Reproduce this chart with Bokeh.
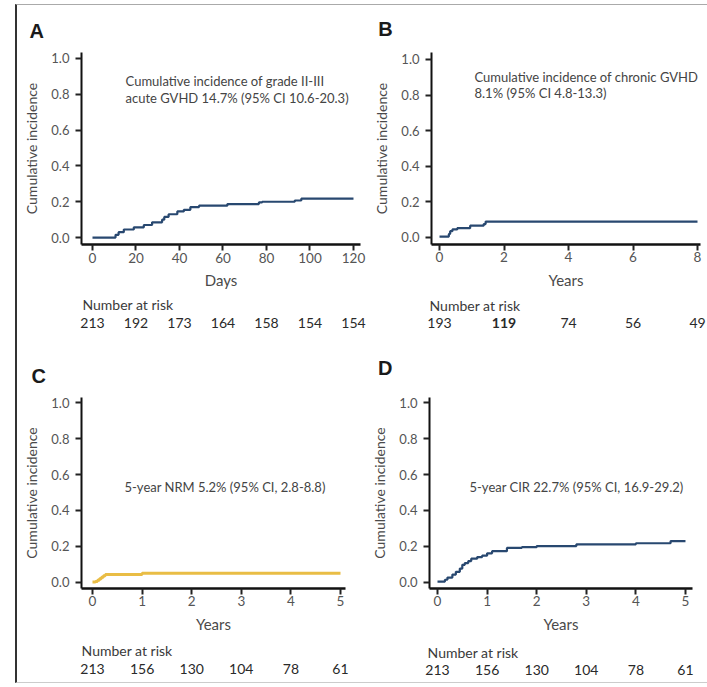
from bokeh.plotting import figure
from bokeh.layouts import column, row
from bokeh.models import Label, FixedTicker, Range1d, Spacer, CustomJSTickFormatter
from bokeh.embed import file_html
from bokeh.resources import INLINE

# ---------------- data ----------------
a_days = [0, 10.6, 12, 14.4, 19, 23.6, 27.4, 32, 33, 35, 39, 42, 45, 49, 62, 76.5, 78, 93, 96, 120]
a_ci = [0.0, 0.015, 0.03, 0.045, 0.057, 0.07, 0.085, 0.1, 0.115, 0.13, 0.146, 0.155, 0.17, 0.178,
        0.187, 0.196, 0.2, 0.207, 0.217, 0.217]
a_ticks = [0, 20, 40, 60, 80, 100, 120]
a_risk = ["213", "192", "173", "164", "158", "154", "154"]

b_years = [0, 0.29, 0.33, 0.4, 0.55, 0.95, 1.37, 1.43, 8]
b_ci = [0.005, 0.02, 0.035, 0.045, 0.052, 0.066, 0.075, 0.089, 0.089]
b_ticks = [0, 2, 4, 6, 8]
b_risk = ["193", "119", "74", "56", "49"]

c_years = [0, 0.06, 0.1, 0.14, 0.18, 0.22, 0.26, 1.0, 5]
c_ci = [0.003, 0.005, 0.012, 0.02, 0.029, 0.037, 0.044, 0.051, 0.051]
c_ticks = [0, 1, 2, 3, 4, 5]
c_risk = ["213", "156", "130", "104", "78", "61"]

d_years = [0, 0.15, 0.2, 0.3, 0.37, 0.45, 0.5, 0.55, 0.62, 0.68, 0.8, 0.9, 1.0, 1.1, 1.4, 1.7,
           2.0, 2.8, 4.0, 4.7, 5.0]
d_ci = [0.005, 0.015, 0.027, 0.044, 0.059, 0.077, 0.098, 0.108, 0.119, 0.132, 0.141, 0.149,
        0.162, 0.174, 0.192, 0.196, 0.202, 0.212, 0.218, 0.23, 0.23]
d_ticks = [0, 1, 2, 3, 4, 5]
d_risk = ["213", "156", "130", "104", "78", "61"]
y_ticks = [0, 0.2, 0.4, 0.6, 0.8, 1.0]

FONT = "Lato"
BLUE = "#284870"
GOLD = "#e9bd45"


def panel(w, h, xr, yr, ax_x, ax_y, x_end, y_end, xs, ys, ticks, xlabel, color, letter, letter_xy,
          notes, risk, risk_x0, risk_y, bold_idx=None):
    p = figure(width=w, height=h, output_backend="svg", toolbar_location=None,
               x_range=Range1d(*xr), y_range=Range1d(*yr),
               min_border_left=0, min_border_right=0, min_border_top=0, min_border_bottom=0)
    p.grid.visible = False
    p.outline_line_color = None
    p.background_fill_color = "white"
    p.border_fill_color = "white"
    p.step(xs, ys, mode="after", line_color=color, line_width=2.2 if color == BLUE else 3)

    p.xaxis.ticker = FixedTicker(ticks=ticks)
    p.yaxis.ticker = FixedTicker(ticks=y_ticks)
    p.yaxis.formatter = CustomJSTickFormatter(code="return tick.toFixed(1);")
    p.xaxis.fixed_location = ax_y
    p.yaxis.fixed_location = ax_x
    p.xaxis.bounds = (ax_x, x_end)
    p.yaxis.bounds = (ax_y, y_end)
    for ax in (p.xaxis[0], p.yaxis[0]):
        ax.axis_line_color = "#111111"
        ax.major_tick_line_color = "#222222"
        ax.major_tick_line_width = 2
        ax.major_tick_out = 6
        ax.major_tick_in = 0
        ax.minor_tick_line_color = None
        ax.major_label_text_font = FONT
        ax.major_label_text_color = "#555555"
        ax.axis_label_text_font = FONT
        ax.axis_label_text_font_style = "normal"
        ax.axis_label_text_color = "#4a4a4a"
    p.xaxis.major_label_text_font_size = "13.5px"
    p.yaxis.major_label_text_font_size = "13px"
    p.xaxis.axis_line_width = 2.5
    p.yaxis.axis_line_width = 2
    p.xaxis.axis_label = xlabel
    p.xaxis.axis_label_text_font_size = "15px"
    p.xaxis.major_label_standoff = 2
    p.xaxis.axis_label_standoff = 5
    p.yaxis.axis_label = "Cumulative incidence"
    p.yaxis.axis_label_text_font_size = "14px"
    p.yaxis.major_label_standoff = 6
    p.yaxis.axis_label_standoff = 8

    p.add_layout(Label(x=letter_xy[0], y=letter_xy[1], text=letter, text_font="Liberation Sans",
                       text_font_style="bold", text_font_size="20px", text_color="#1a1a1a",
                       text_align="left", text_baseline="middle"))
    for nx, ny, txt in notes:
        p.add_layout(Label(x=nx, y=ny, text=txt, text_font=FONT, text_font_size="13px",
                           text_color="#444444", text_align="left", text_baseline="middle"))
    p.add_layout(Label(x=risk_x0, y=risk_y[0], text="Number at risk", text_font=FONT,
                       text_font_size="14px", text_color="#3a3a3a", text_align="left",
                       text_baseline="middle"))
    for i, (tx, r) in enumerate(zip(ticks, risk)):
        p.add_layout(Label(x=tx, y=risk_y[1], text=r, text_font=FONT, text_font_size="14px",
                           text_color="#2a2a2a", text_align="center", text_baseline="middle",
                           text_font_style="bold" if i == bold_idx else "normal"))
    return p


pa = panel(353, 340, (-34.48, 127.82), (-0.603, 1.296), -5.06, -0.039, 123.2, 1.036,
           a_days, a_ci, a_ticks, "Days", BLUE, "A", (-29.0, 1.155),
           [(15.2, 0.872, "Cumulative incidence of grade II-III"),
            (15.2, 0.778, "acute GVHD 14.7% (95% CI 10.6-20.3)")],
           a_risk, -4.6, (-0.372, -0.478))

pb = panel(337, 340, (-2.14, 8.31), (-0.607, 1.303), -0.248, -0.039, 8.09, 1.039,
           b_years, b_ci, b_ticks, "Years", BLUE, "B", (-1.9, 1.17),
           [(1.085, 0.899, "Cumulative incidence of chronic GVHD"),
            (1.085, 0.809, "8.1% (95% CI 4.8-13.3)")],
           b_risk, -0.31, (-0.382, -0.483), bold_idx=1)

pc = panel(353, 337, (-1.512, 5.605), (-0.556, 1.317), -0.222, -0.033, 5.1, 1.028,
           c_years, c_ci, c_ticks, "Years", GOLD, "C", (-1.23, 1.15),
           [(0.645, 0.533, "5-year NRM 5.2% (95% CI, 2.8-8.8)")],
           c_risk, -0.22, (-0.378, -0.483))

pd_ = panel(337, 337, (-1.351, 5.444), (-0.556, 1.317), -0.161, -0.033, 5.14, 1.028,
            d_years, d_ci, d_ticks, "Years", BLUE, "D", (-1.2, 1.19),
            [(0.645, 0.533, "5-year CIR 22.7% (95% CI, 16.9-29.2)")],
            d_risk, -0.2, (-0.389, -0.489))

inner = column(row(pa, pb, spacing=0), row(pc, pd_, spacing=0), spacing=0,
               styles={"border-left": "2px solid #333333", "border-top": "1px solid #aaaaaa",
                       "border-bottom": "1px solid #cccccc", "background": "white"})
layout = column(Spacer(height=4), row(Spacer(width=15), inner, spacing=0), spacing=0)

open("out.html", "w").write(file_html(layout, INLINE))
